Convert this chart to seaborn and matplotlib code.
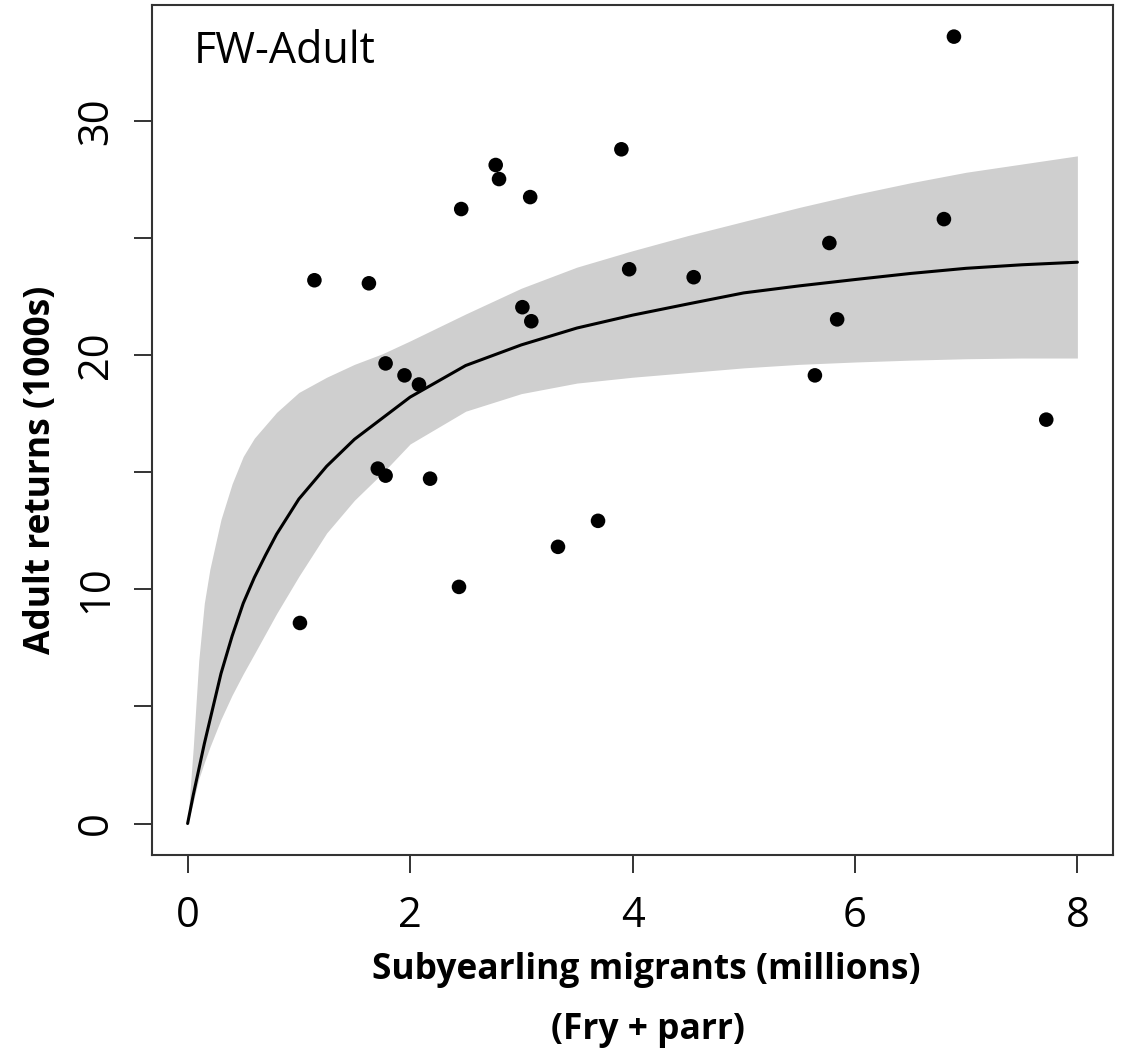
import matplotlib
matplotlib.use("Agg")
import matplotlib.pyplot as plt
import seaborn as sns
import pandas as pd

# observed points: subyearling migrants (millions) vs adult returns (1000s)
migrants = [1.01, 1.14, 1.63, 1.71, 1.78, 1.78, 1.95, 2.08, 2.18, 2.44, 2.46, 2.77, 2.80, 3.01,
            3.08, 3.09, 3.33, 3.69, 3.90, 3.97, 4.55, 5.64, 5.77, 5.84, 6.80, 6.89, 7.72]
returns = [8.56, 23.19, 23.06, 15.15, 14.85, 19.64, 19.13, 18.74, 14.72, 10.10, 26.23, 28.11, 27.51, 22.04,
           26.74, 21.44, 11.81, 12.92, 28.78, 23.66, 23.32, 19.13, 24.78, 21.52, 25.80, 33.59, 17.24]

# fitted curve and band
fit_x = [0, 0.05, 0.1, 0.15, 0.2, 0.3, 0.4, 0.5, 0.6, 0.7, 0.8, 1.0, 1.25, 1.5, 1.75, 2.0, 2.5, 3.0,
         3.5, 4.0, 4.5, 5.0, 5.5, 6.0, 6.5, 7.0, 7.5, 8.0]
fit_mid = [0, 1.2, 2.3, 3.4, 4.4, 6.4, 8.0, 9.4, 10.5, 11.45, 12.35, 13.85, 15.25, 16.4, 17.3, 18.2, 19.55, 20.43,
           21.15, 21.7, 22.18, 22.65, 22.95, 23.22, 23.48, 23.7, 23.85, 23.96]
fit_hi = [0, 3.2, 6.95, 9.4, 10.85, 12.98, 14.5, 15.67, 16.45, 17.0, 17.55, 18.4, 19.05, 19.6, 20.05, 20.6, 21.75,
          22.85, 23.75, 24.45, 25.1, 25.7, 26.3, 26.85, 27.35, 27.8, 28.15, 28.5]
fit_lo = [0, 0.9, 1.9, 2.6, 3.26, 4.45, 5.48, 6.39, 7.24, 8.1, 8.96, 10.55, 12.4, 13.8, 14.95, 16.2, 17.6, 18.35,
          18.8, 19.05, 19.25, 19.45, 19.6, 19.7, 19.78, 19.84, 19.87, 19.87]

sns.set_style("white")
plt.rcParams['font.family'] = ['Open Sans', 'DejaVu Sans']
plt.rcParams['text.color'] = 'black'
plt.rcParams['xtick.color'] = 'black'
plt.rcParams['ytick.color'] = 'black'

pts = pd.DataFrame({"x": migrants, "y": returns})
fit = pd.DataFrame({"x": fit_x, "mid": fit_mid, "hi": fit_hi, "lo": fit_lo})

fig = plt.figure(figsize=(11.32, 10.51), dpi=100)
ax = fig.add_axes([0.1343, 0.1865, 0.8489, 0.80875])

ax.fill_between(fit["x"], fit["lo"], fit["hi"], color="#cfcfcf", lw=0)
sns.lineplot(data=fit, x="x", y="mid", ax=ax, color="black", lw=2.2)
sns.scatterplot(data=pts, x="x", y="y", ax=ax, color="black", s=110, edgecolor="none", zorder=3)

ax.set_xlim(-0.32, 8.32)
ax.set_ylim(-1.344, 34.94)
ax.set_xticks([0, 2, 4, 6, 8])
ax.set_yticks([0, 5, 10, 15, 20, 25, 30])
ax.set_yticklabels(["0", "", "10", "", "20", "", "30"], rotation=90, va="center")
ax.tick_params(axis="both", direction="out", length=13, width=1.4, color="#333333",
               labelsize=30, labelcolor="black", left=True, bottom=True)
ax.tick_params(axis="x", pad=16)
ax.tick_params(axis="y", pad=12)
ax.set_xlabel("")
ax.set_ylabel("")
for sp in ax.spines.values():
    sp.set_color("#333333")
    sp.set_linewidth(1.5)

ax.text(0.043, 0.945, "FW-Adult", transform=ax.transAxes, fontsize=31, va="center", ha="left")

fig.text(0.571, 0.077, "Subyearling migrants (millions)", fontsize=25.5, fontweight="bold",
         ha="center", va="center")
fig.text(0.572, 0.020, "(Fry + parr)", fontsize=25.5, fontweight="bold", ha="center", va="center")
fig.text(0.036, 0.553, "Adult returns (1000s)", fontsize=25.5, fontweight="bold", rotation=90,
         ha="center", va="center")

fig.savefig("out.png", dpi=100)
